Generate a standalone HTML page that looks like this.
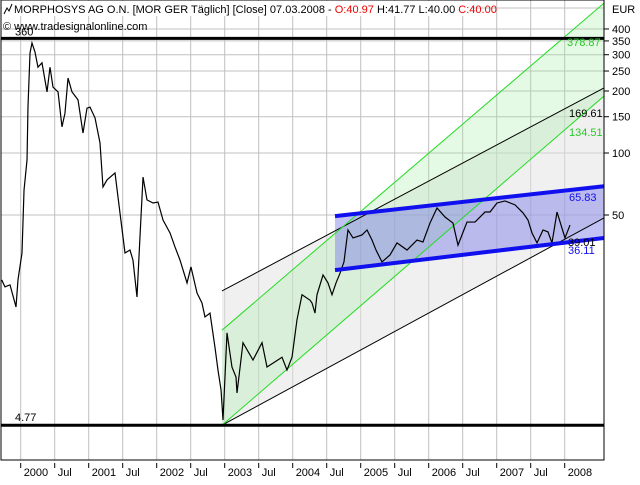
<!DOCTYPE html>
<html><head><meta charset="utf-8"><style>
body{margin:0;background:#fff;width:640px;height:480px;overflow:hidden;font-family:"Liberation Sans",sans-serif}
svg text{font-family:"Liberation Sans",sans-serif;font-size:11px}
</style></head><body>
<svg id="c" width="640" height="480" xmlns="http://www.w3.org/2000/svg"></svg>
<script>
const yTicks=[400,350,300,250,200,150,100,50];
const xTickYears=[2000,2000.5,2001,2001.5,2002,2002.5,2003,2003.5,2004,2004.5,2005,2005.5,2006,2006.5,2007,2007.5,2008];
const xTickLabels=["2000","Jul","2001","Jul","2002","Jul","2003","Jul","2004","Jul","2005","Jul","2006","Jul","2007","Jul","2008"];
const dates=[1999.721,1999.769,1999.843,1999.931,1999.96,2000.019,2000.049,2000.093,2000.107,2000.137,2000.166,2000.21,2000.254,2000.313,2000.387,2000.431,2000.475,2000.549,2000.607,2000.651,2000.696,2000.754,2000.843,2000.916,2000.975,2001.019,2001.093,2001.166,2001.21,2001.269,2001.387,2001.46,2001.534,2001.607,2001.651,2001.71,2001.754,2001.799,2001.857,2001.946,2002.019,2002.093,2002.196,2002.269,2002.343,2002.446,2002.504,2002.593,2002.666,2002.71,2002.784,2002.857,2002.901,2002.946,2002.975,2003.034,2003.107,2003.166,2003.181,2003.269,2003.416,2003.549,2003.622,2003.843,2003.916,2003.99,2004.063,2004.137,2004.254,2004.284,2004.328,2004.357,2004.446,2004.519,2004.578,2004.637,2004.696,2004.754,2004.813,2004.887,2005.019,2005.093,2005.166,2005.225,2005.313,2005.431,2005.534,2005.681,2005.828,2005.916,2006.019,2006.122,2006.24,2006.357,2006.431,2006.563,2006.681,2006.828,2006.902,2007.004,2007.122,2007.269,2007.387,2007.46,2007.519,2007.593,2007.681,2007.754,2007.813,2007.887,2007.946,2008.004,2008.078];
const prices=[24.2,22.4,22.9,17.9,24.2,32.7,66.1,92.5,167,306,342,309,261,274,198,261,209,198,134,156,231,198,181,125,165,167,148,112,68.4,74,80,51.2,32.7,33.8,30.2,20,39.1,76.4,59.2,57.2,57.8,47.3,40.9,35,30.2,23.4,28,20.9,18.7,16,16.7,11.4,8.85,7.08,5.06,13.4,9.14,8.18,6.84,12,9.89,12,9.14,10.2,8.85,10.2,15.5,20.5,19.3,18.7,16.7,20.5,25.6,23.4,20.5,23.4,26.1,29.6,42.3,38.7,40,42.3,37.8,33.8,29.6,32,36.6,33.8,37.8,37,45.7,54.1,48.9,45.7,35.7,46.2,46.2,51.7,51.7,57.2,58.5,56,51.2,47.3,40.9,36.6,42.3,41.4,36.6,51.7,44.7,38.7,44.7,41.4];
const chanBlackLo=[[2002.96,4.77],[2008.578,48.4]];
const chanBlackHi=[[2002.96,21.4],[2008.578,207]];
const chanGreenLo=[[2002.96,4.77],[2008.578,189]];
const chanGreenHi=[[2002.96,13.8],[2008.578,534]];
const chanBlueHi=[[2004.622,49.4],[2008.578,69]];
const chanBlueLo=[[2004.622,27],[2008.578,38.7]];
const X=d=>20.7+(d-2000)*68;
const Y=v=>153-206*Math.log10(v/100);
const svg=document.getElementById('c');const NS="http://www.w3.org/2000/svg";
function add(tag,at,name,txt){const e=document.createElementNS(NS,tag);for(const k in at)e.setAttribute(k,at[k]);


if(txt!==undefined)e.textContent=txt;svg.appendChild(e);return e;}
const R=604,B=460;
const clip=add('clipPath',{id:'pc'},'plot-clip');const cr=document.createElementNS(NS,'rect');cr.setAttribute('x',1);cr.setAttribute('y',0);cr.setAttribute('width',R-1);cr.setAttribute('height',B);clip.appendChild(cr);
xTickYears.forEach((d,i)=>{add('line',{x1:X(d),x2:X(d),y1:0,y2:B,stroke:'#c0c0c0'},'x-gridline');});
[8,...yTicks].forEach(v=>{const y=v===8?8:Y(v);add('line',{x1:1,x2:R,y1:y,y2:y,stroke:'#c0c0c0'},'y-gridline');});
function poly(lo,hi,fill,name){const p=[lo[0],lo[1],hi[1],hi[0]].map(q=>X(q[0])+','+Y(q[1])).join(' ');add('polygon',{points:p,fill:fill,'clip-path':'url(#pc)'},name);}
function ln(a,st,w,name){add('line',{x1:X(a[0][0]),y1:Y(a[0][1]),x2:X(a[1][0]),y2:Y(a[1][1]),stroke:st,'stroke-width':w,'clip-path':'url(#pc)'},name);}
poly(chanBlackLo,chanBlackHi,'rgba(225,225,225,0.5)','regression-channel-fill');
poly(chanGreenLo,chanGreenHi,'rgba(150,235,150,0.25)','green-channel-fill');
poly(chanBlueLo,chanBlueHi,'rgba(120,120,230,0.45)','blue-channel-fill');
ln(chanBlackLo,'#000',1,'channel-lower-line');ln(chanBlackHi,'#000',1,'channel-upper-line');
ln(chanGreenLo,'#22dd22',1,'green-lower-line');ln(chanGreenHi,'#22dd22',1,'green-upper-line');
[360,4.77].forEach(v=>add('line',{x1:1,x2:R,y1:Y(v),y2:Y(v),stroke:'#000','stroke-width':3},'level-line-'+v));
add('polyline',{points:dates.map((d,i)=>X(d)+','+Y(prices[i])).join(' '),fill:'none',stroke:'#000','stroke-width':1.2,'clip-path':'url(#pc)'},'price-line');
ln(chanBlueHi,'#1010ee',4,'blue-upper-line');ln(chanBlueLo,'#1010ee',4,'blue-lower-line');
add('rect',{x:1,y:0,width:R-1,height:B,fill:'none',stroke:'#000'},'plot-frame');
yTicks.forEach(v=>{add('line',{x1:R,x2:R+5,y1:Y(v),y2:Y(v),stroke:'#000'},'y-tick');add('text',{x:612,y:Y(v)+4},'y-tick-label',String(v));});
add('text',{x:612,y:13},'y-axis-unit','EUR');
xTickYears.forEach((d,i)=>{add('line',{x1:X(d),x2:X(d),y1:B+3,y2:B+8,stroke:'#000'},'x-tick');add('text',{x:X(d)+3,y:476},'x-tick-label',xTickLabels[i]);});
add('text',{x:15,y:Y(360)-3},'level-label-360','360');
add('text',{x:15,y:Y(4.77)-4},'level-label-477','4.77');
add('text',{x:567,y:46,fill:'#22cc22'},'label-378','378.87');
add('text',{x:569,y:117},'label-169','169.61');
add('text',{x:569,y:136,fill:'#22cc22'},'label-134','134.51');
add('text',{x:569,y:201,fill:'#1010ee'},'label-65','65.83');
add('text',{x:568,y:246},'label-39','39.01');
add('text',{x:568,y:254,fill:'#1010ee'},'label-36','36.11');
add('rect',{x:2,y:1,width:470,height:15,fill:'#fff'},'header-bg');
const t=add('text',{x:14,y:13},'chart-title');
[['MORPHOSYS AG O.N. [MOR GER  Täglich] [Close] 07.03.2008 - ','#000'],['O:40.97 ','#e00'],['H:41.77 L:40.00 ','#000'],['C:40.00','#e00']].forEach(s=>{const ts=document.createElementNS(NS,'tspan');ts.setAttribute('fill',s[1]);ts.textContent=s[0];t.appendChild(ts);});
add('polyline',{points:'4,14 7,8 9,11 12,4',fill:'none',stroke:'#000'},'chart-icon');
add('text',{x:3,y:30},'copyright','© www.tradesignalonline.com');
</script></body></html>
